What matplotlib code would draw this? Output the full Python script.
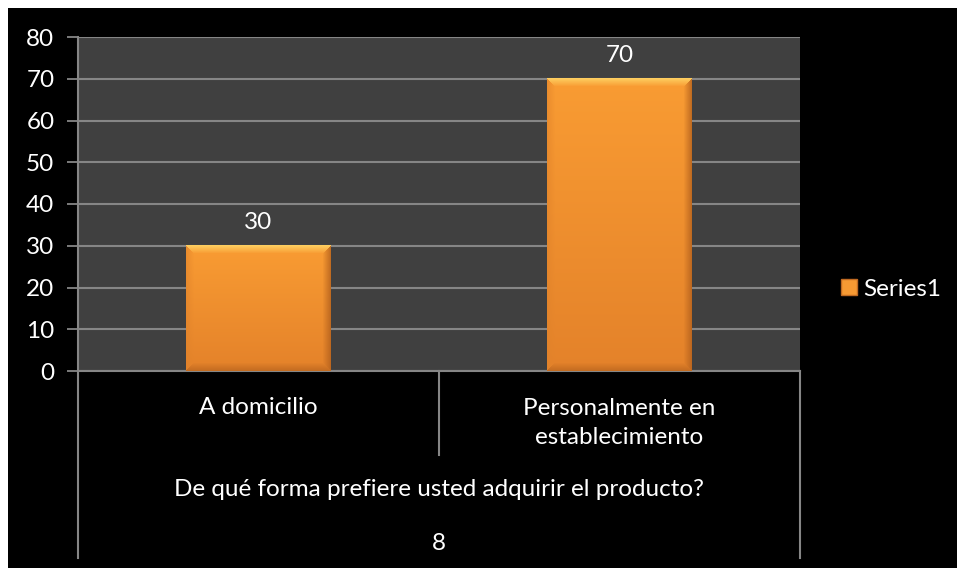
import matplotlib
matplotlib.use("Agg")
import matplotlib.pyplot as plt
import matplotlib.patches as mpatches
import matplotlib.transforms as mtransforms
import numpy as np

categories = ["A domicilio", "Personalmente en\nestablecimiento"]
values = [30, 70]
group_label = "De qué forma prefiere usted adquirir el producto?"
outer_label = "8"
series_name = "Series1"
y_ticks = [0, 10, 20, 30, 40, 50, 60, 70, 80]

plt.rcParams["font.family"] = ["Lato", "DejaVu Sans"]
FS = 17.5
TEXT = "#FFFFFF"
LINE = "#868686"
PLOT_BG = "#404040"
ORANGE = "#F79A33"

W, H = 957, 568
fig = plt.figure(figsize=(W / 100, H / 100), dpi=100, facecolor="white")
# black chart area, leaving a thin white margin top and left
fig.patches.append(mpatches.Rectangle((8 / W, 0), 1, 1 - 8 / H, transform=fig.transFigure,
                                      facecolor="black", edgecolor="none", zorder=-10))

ax_left, ax_right = 78 / W, 800 / W
ax_bottom, ax_top = 1 - 371 / H, 1 - 37 / H
ax = fig.add_axes([ax_left, ax_bottom, ax_right - ax_left, ax_top - ax_bottom])
ax.set_facecolor(PLOT_BG)

x = np.arange(len(categories))
bar_w = 0.40
bars = ax.bar(x, values, width=bar_w, color=ORANGE, edgecolor="none", zorder=3, label=series_name)

ax.set_xlim(-0.5, len(categories) - 0.5)
ax.set_ylim(0, 80)
ax.set_yticks(y_ticks)
ax.set_yticklabels([str(t) for t in y_ticks], color=TEXT, fontsize=FS)
ax.tick_params(axis="y", length=8, width=1.3, color=LINE, pad=9, direction="out")
ax.set_xticks([])
ax.grid(axis="y", color=LINE, linewidth=1.5, zorder=1)
ax.set_axisbelow(True)
for side in ["top", "right"]:
    ax.spines[side].set_visible(False)
ax.spines["left"].set_color(LINE)
ax.spines["left"].set_linewidth(1.5)
ax.spines["bottom"].set_color(LINE)
ax.spines["bottom"].set_linewidth(1.5)


def bevel_image(h, w, bw=8):
    """Vertical orange gradient with a soft bevel on each edge."""
    top = np.array([0xF9, 0x9C, 0x33]) / 255
    bot = np.array([0xE4, 0x82, 0x2A]) / 255
    t = np.linspace(0, 1, h)[:, None, None]
    img = top * (1 - t) + bot * t
    img = np.repeat(img, w, axis=1)
    r = np.arange(h)[:, None]
    c = np.arange(w)[None, :]
    dt, db = np.broadcast_to(r, (h, w)), np.broadcast_to(h - 1 - r, (h, w))
    dl, dr = np.broadcast_to(c, (h, w)), np.broadcast_to(w - 1 - c, (h, w))
    d = np.stack([dt, db, dl, dr])
    side = d.argmin(axis=0)
    dist = d.min(axis=0)
    amt = np.clip(1 - dist / bw, 0, 1)[..., None]
    light = np.array([0xFE, 0xD0, 0x62]) / 255
    dark = np.array([0xB0, 0x5E, 0x1C]) / 255
    targets = np.stack([light, dark, np.array([0xE0, 0x82, 0x2A]) / 255, dark])
    tgt = targets[side]
    strength = np.array([0.95, 0.6, 0.55, 0.75])[side][..., None]
    return img * (1 - amt * strength) + tgt * amt * strength


px_per_unit = (ax_top - ax_bottom) * H / 80
px_per_cat = (ax_right - ax_left) * W / len(categories)
for rect, v in zip(bars, values):
    h_px = max(int(round(v * px_per_unit)), 2)
    w_px = max(int(round(bar_w * px_per_cat)), 2)
    x0 = rect.get_x()
    ax.imshow(bevel_image(h_px, w_px), extent=(x0, x0 + bar_w, 0, v), aspect="auto",
              interpolation="bilinear", zorder=4)
ax.set_xlim(-0.5, len(categories) - 0.5)
ax.set_ylim(0, 80)

for xi, v in zip(x, values):
    ax.annotate(str(v), (xi, v), xytext=(0, 9), textcoords="offset points",
                ha="center", va="bottom", color=TEXT, fontsize=FS)

# multi-level category axis below the plot
trans = mtransforms.blended_transform_factory(ax.transData, ax.transAxes)
axis_px = 371 - 37
outer_depth = (371 - 558) / axis_px
inner_depth = (371 - 455) / axis_px
for xb in [-0.5, len(categories) - 0.5]:
    ax.plot([xb, xb], [0, outer_depth], transform=trans, color=LINE, lw=1.5, clip_on=False)
for xb in np.arange(0.5, len(categories) - 0.5):
    ax.plot([xb, xb], [0, inner_depth], transform=trans, color=LINE, lw=1.5, clip_on=False)

for xi, cat in zip(x, categories):
    n_lines = cat.count("\n") + 1
    yc = 407 + (n_lines - 1) * 16
    ax.text(xi, (371 - yc) / axis_px, cat, transform=trans, ha="center", va="center",
            color=TEXT, fontsize=FS, linespacing=1.5, clip_on=False)
mid = (len(categories) - 1) / 2
ax.text(mid, (371 - 489) / axis_px, group_label, transform=trans, ha="center", va="center",
        color=TEXT, fontsize=FS)
ax.text(mid, (371 - 543) / axis_px, outer_label, transform=trans, ha="center", va="center",
        color=TEXT, fontsize=FS)

handle = mpatches.Patch(facecolor=ORANGE, edgecolor="#C06A22", linewidth=1)
fig.legend([handle], [series_name], loc="center left", bbox_to_anchor=(841 / W, 1 - 289 / H),
           frameon=False, fontsize=FS, labelcolor=TEXT, handlelength=0.65, handleheight=0.65,
           handletextpad=0.25, borderpad=0, borderaxespad=0)

fig.savefig("out.png", dpi=100, facecolor=fig.get_facecolor())
